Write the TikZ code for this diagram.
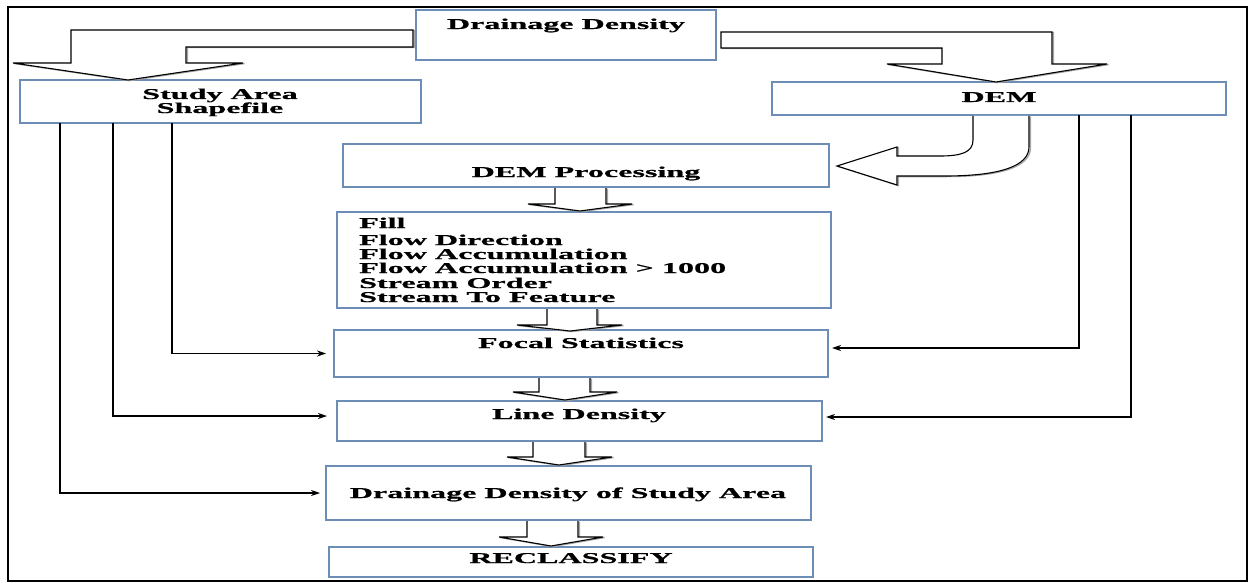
\documentclass[tikz,border=0pt]{standalone}
\usepackage{fontspec}
\setmainfont{Liberation Serif}[FakeStretch=2.14, BoldFeatures={FakeBold=0.8}]
\usetikzlibrary{arrows.meta}
\definecolor{boxblue}{RGB}{108,142,182}
\definecolor{shade}{RGB}{165,165,165}
\tikzset{
  box/.style={draw=boxblue, line width=1.6pt, fill=white, inner sep=0pt, outer sep=0pt},
  txt/.style={font=\fontsize{15}{15}\selectfont\bfseries, inner sep=0pt, text=black},
  conn/.style={draw=black, line width=1.2pt, -{Stealth[length=9pt,width=6pt]}},
  blk/.style={draw=black, fill=white, line width=1.1pt, line join=miter},
  blkshadow/.style={draw=shade, line width=1.3pt, xshift=1.5pt, yshift=-0.6pt}
}
\newcommand\blockarrow[1]{\draw[blkshadow] #1; \filldraw[blk] #1;}
\begin{document}
\begin{tikzpicture}[x=1pt,y=-1pt]
\useasboundingbox (0,0) rectangle (1249,583);
\draw[line width=2pt] (8,7) rectangle (1247,581);

% boxes
\node[box, minimum width=300pt, minimum height=50pt] (dd) at (566,35) {};
\node[box, minimum width=401pt, minimum height=43pt] (sa) at (220.5,101.5) {};
\node[box, minimum width=454pt, minimum height=33pt] (dem) at (999,98.5) {};
\node[box, minimum width=486pt, minimum height=43pt] (dp) at (586,165.5) {};
\node[box, minimum width=494pt, minimum height=96pt] (list) at (584,260) {};
\node[box, minimum width=494pt, minimum height=47pt] (fs) at (581,353.5) {};
\node[box, minimum width=485pt, minimum height=40pt] (ld) at (579.5,421) {};
\node[box, minimum width=485pt, minimum height=54pt] (ddsa) at (568.5,493) {};
\node[box, minimum width=484pt, minimum height=30pt] (rc) at (571,562) {};

% texts
\node[txt, anchor=base] (tdd) at (566,29) {Drainage Density};
\node[txt, anchor=base] (tsa1) at (220,99) {Study Area};
\node[txt, anchor=base] (tsa2) at (220,113) {Shapefile};
\node[txt, anchor=base] (tdem) at (999,102) {DEM};
\node[txt, anchor=base] (tdp) at (586,177) {DEM Processing};
\node[txt, anchor=base west] (l1) at (359,228) {Fill};
\node[txt, anchor=base west] (l2) at (359,245) {Flow Direction};
\node[txt, anchor=base west] (l3) at (359,259) {Flow Accumulation};
\node[txt, anchor=base west] (l4) at (359,273) {Flow Accumulation > 1000};
\node[txt, anchor=base west] (l5) at (359,288) {Stream Order};
\node[txt, anchor=base west] (l6) at (359,302) {Stream To Feature};
\node[txt, anchor=base] (tfs) at (581,348) {Focal Statistics};
\node[txt, anchor=base] (tld) at (579,419) {Line Density};
\node[txt, anchor=base] (tddsa) at (568,498) {Drainage Density of Study Area};
\node[txt, anchor=base] (trc) at (571,563) {RECLASSIFY};

% block arrows
\blockarrow{(413,30) -- (71,30) -- (71,63) -- (13,63) -- (128,80) -- (243,63) -- (186,63) -- (186,47) -- (413,47) -- cycle}
\blockarrow{(721,32) -- (1052,32) -- (1052,64) -- (1107,64) -- (996,82) -- (887,64) -- (942,64) -- (942,48) -- (721,48) -- cycle}
\blockarrow{(973,116) -- (973,140) .. controls (973,152) and (962,156) .. (940,156) -- (897,156) -- (897,147) -- (837,166) -- (897,185) -- (897,176) -- (945,176) .. controls (1000,176) and (1029,166) .. (1029,147) -- (1029,116)}
\blockarrow{(555,188) -- (555,204) -- (528,204) -- (580,211) -- (632,204) -- (606,204) -- (606,188)}
\blockarrow{(547,309) -- (547,325) -- (517,325) -- (570,331) -- (622,325) -- (597,325) -- (597,309)}
\blockarrow{(539,378) -- (539,392) -- (513,392) -- (565,400) -- (617,392) -- (590,392) -- (590,378)}
\blockarrow{(533,442) -- (533,457) -- (507,457) -- (559,465) -- (612,457) -- (585,457) -- (585,442)}
\blockarrow{(527,521) -- (527,537) -- (499,537) -- (551,546) -- (603,537) -- (578,537) -- (578,521)}

% connectors
\draw[conn, shorten >=8pt] ([xshift=152pt]sa.south west) |- (fs.west);
\draw[conn, shorten >=10pt] ([xshift=93pt]sa.south west) |- ([yshift=5pt]ld.west);
\draw[conn, shorten >=6pt] ([xshift=40pt]sa.south west) |- (ddsa.west);
\draw[conn, shorten >=4pt] ([xshift=307pt]dem.south west) |- ([yshift=5.5pt]fs.east);
\draw[conn, shorten >=4pt] ([xshift=359pt]dem.south west) |- ([yshift=4pt]ld.east);
\end{tikzpicture}
\end{document}
